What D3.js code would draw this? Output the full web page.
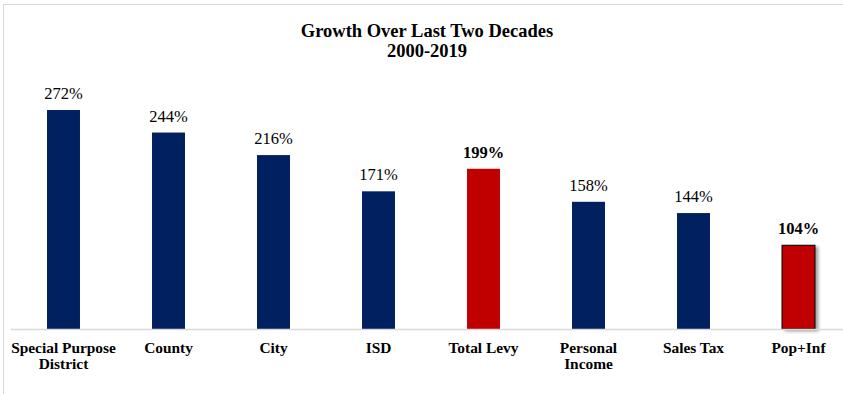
<!DOCTYPE html>
<html>
<head>
<meta charset="utf-8">
<script src="https://cdn.jsdelivr.net/npm/d3@7"></script>
<style>
  body { margin: 0; background: #fff; }
  svg { display: block; font-family: "Liberation Serif", "Times New Roman", serif; }
</style>
</head>
<body>
<div id="chart"></div>
<script>
// donnees
var categories = ["Special Purpose|District", "County", "City", "ISD", "Total Levy", "Personal|Income", "Sales Tax", "Pop+Inf"];
var values = [272, 244, 216, 171, 199, 158, 144, 104];
var highlight = [false, false, false, false, true, false, false, true];

var W = 843, H = 394;
var svg = d3.select("#chart").append("svg").attr("width", W).attr("height", H);

// ombre pour la derniere barre
var defs = svg.append("defs");
var f = defs.append("filter").attr("id", "shadow").attr("x", "-20%").attr("y", "-20%").attr("width", "160%").attr("height", "140%");
f.append("feDropShadow").attr("dx", 3).attr("dy", 2).attr("stdDeviation", 1.5).attr("flood-color", "#000").attr("flood-opacity", 0.35);

// cadre
svg.append("rect").attr("x", 3.5).attr("y", 4.5).attr("width", W + 10).attr("height", H + 10)
    .attr("fill", "none").attr("stroke", "#d9d9d9").attr("stroke-width", 1);

var x = d3.scaleBand().domain(d3.range(categories.length)).range([11, 851]).paddingInner(0.686).paddingOuter(0.343);
var y = d3.scaleLinear().domain([0, 272]).range([329, 110]);

// titre
svg.append("text").attr("x", 427).attr("y", 37).attr("text-anchor", "middle")
    .style("font-weight", "bold").style("font-size", "18.5px").text("Growth Over Last Two Decades");
svg.append("text").attr("x", 427).attr("y", 57).attr("text-anchor", "middle")
    .style("font-weight", "bold").style("font-size", "18.5px").text("2000-2019");

// barres
svg.selectAll("rect.bar").data(values).enter().append("rect")
    .attr("class", "bar")
    .attr("x", function(d, i) { return x(i); })
    .attr("y", function(d) { return y(d); })
    .attr("width", x.bandwidth())
    .attr("height", function(d) { return y(0) - y(d); })
    .attr("fill", function(d, i) { return highlight[i] ? "#c00000" : "#002060"; })
    .attr("stroke", function(d, i) { return i == values.length - 1 ? "#000" : "none"; })
    .attr("stroke-width", 1)
    .attr("filter", function(d, i) { return i == values.length - 1 ? "url(#shadow)" : null; });

// axe
svg.append("line").attr("x1", 11).attr("x2", W).attr("y1", 329.5).attr("y2", 329.5)
    .attr("stroke", "#d9d9d9").attr("stroke-width", 1.5);

// etiquettes valeurs
svg.selectAll("text.val").data(values).enter().append("text")
    .attr("class", "val")
    .attr("x", function(d, i) { return x(i) + x.bandwidth() / 2; })
    .attr("y", function(d) { return y(d) - 11; })
    .attr("text-anchor", "middle")
    .style("font-size", "16.5px")
    .style("font-weight", function(d, i) { return highlight[i] ? "bold" : "normal"; })
    .text(function(d) { return d + "%"; });

// etiquettes categories
var cat = svg.selectAll("text.cat").data(categories).enter().append("text")
    .attr("class", "cat")
    .attr("x", function(d, i) { return x(i) + x.bandwidth() / 2; })
    .attr("y", 353)
    .attr("text-anchor", "middle")
    .style("font-size", "15.4px")
    .style("font-weight", "bold");
cat.each(function(d) {
    var t = d3.select(this), lines = d.split("|");
    lines.forEach(function(l, k) {
        t.append("tspan").attr("x", t.attr("x")).attr("dy", k == 0 ? 0 : 15.5).text(l);
    });
});
</script>
</body>
</html>
